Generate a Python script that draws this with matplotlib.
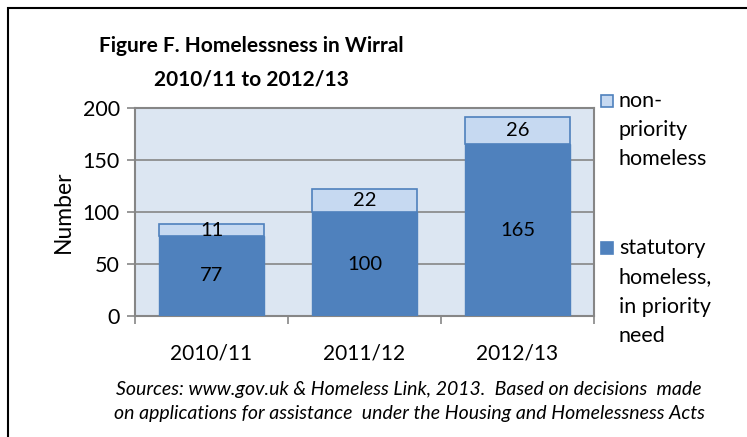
import matplotlib
matplotlib.use("Agg")
import matplotlib.pyplot as plt
from matplotlib.patches import Rectangle
import numpy as np

categories = ["2010/11", "2011/12", "2012/13"]
statutory = [77, 100, 165]
non_priority = [11, 22, 26]
yticks = [0, 50, 100, 150, 200]

plt.rcParams['font.family'] = ['Lato', 'DejaVu Sans']

W, H = 747, 437
fig = plt.figure(figsize=(W/100, H/100), dpi=100)
fig.patch.set_facecolor('white')

# outer frame
fig.patches.append(Rectangle((8/W, -0.05), 1.0, (H-8)/H + 0.05, transform=fig.transFigure,
                             fill=False, edgecolor='black', linewidth=1.5))

x0, x1, y0, y1 = 135, 594, 108, 316
ax = fig.add_axes([x0/W, 1 - y1/H, (x1-x0)/W, (y1-y0)/H])
ax.set_facecolor('#DCE6F2')

dark = '#4F81BD'
light = '#C6D9F1'
grid = '#868686'

x = np.arange(len(categories))
ax.bar(x, statutory, width=0.68, color=dark, edgecolor=dark, linewidth=1, zorder=3)
ax.bar(x, non_priority, bottom=statutory, width=0.68, color=light, edgecolor=dark, linewidth=1.2, zorder=3)

for i in range(len(categories)):
    ax.text(x[i], statutory[i]/2, str(statutory[i]), ha='center', va='center', fontsize=14.5, zorder=4)
    ax.text(x[i], statutory[i] + non_priority[i]/2, str(non_priority[i]), ha='center', va='center', fontsize=14.5, zorder=4)

ax.set_xlim(-0.5, 2.5)
ax.set_ylim(0, 200)
ax.set_yticks(yticks)
ax.set_yticklabels([str(v) for v in yticks], fontsize=15.5)
ax.yaxis.grid(True, color=grid, linewidth=1.2, zorder=1)
ax.set_axisbelow(True)
ax.set_xticks(x)
ax.set_xticklabels(categories, fontsize=15)
ax.tick_params(axis='x', length=0, pad=20)
ax.set_xticks([-0.5, 0.5, 1.5, 2.5], minor=True)
ax.tick_params(axis='x', which='minor', length=6, color=grid, width=1.2)
ax.tick_params(axis='y', length=6, color=grid, width=1.2, pad=5)
for s in ax.spines.values():
    s.set_color(grid)
    s.set_linewidth(1.5)
ax.set_ylabel("Number", fontsize=16.5, labelpad=6)

# title
fig.text(251/W, 1 - 46/H, "Figure F. Homelessness in Wirral", ha='center', va='center',
         fontsize=15, fontweight='bold')
fig.text(251/W, 1 - 80/H, "2010/11 to 2012/13", ha='center', va='center',
         fontsize=15, fontweight='bold')

# legend
sq = 12
fig.patches.append(Rectangle((601/W, 1 - 107/H), sq/W, sq/H, transform=fig.transFigure,
                             facecolor=light, edgecolor=dark, linewidth=1.2))
fig.patches.append(Rectangle((601/W, 1 - 254/H), sq/W, sq/H, transform=fig.transFigure,
                             facecolor=dark, edgecolor=dark, linewidth=1.2))
for i, t in enumerate(["non-", "priority", "homeless"]):
    fig.text(619/W, 1 - (101 + 29*i)/H, t, ha='left', va='center', fontsize=15.5)
for i, t in enumerate(["statutory", "homeless,", "in priority", "need"]):
    fig.text(619/W, 1 - (248 + 29.5*i)/H, t, ha='left', va='center', fontsize=15.5)

# caption
fig.text(409/W, 1 - 389/H, "Sources: www.gov.uk & Homeless Link, 2013.  Based on decisions  made",
         ha='center', va='center', fontsize=14, style='italic')
fig.text(409/W, 1 - 414/H, "on applications for assistance  under the Housing and Homelessness Acts",
         ha='center', va='center', fontsize=14, style='italic')

fig.savefig("out.png", dpi=100)
